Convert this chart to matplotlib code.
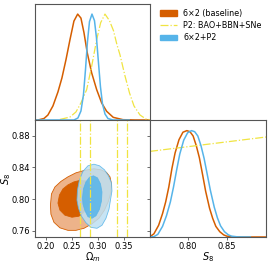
import numpy as np
import matplotlib
matplotlib.use('Agg')
import matplotlib.pyplot as plt
from matplotlib.patches import Patch
from matplotlib.lines import Line2D

c_base = '#D55E00'
c_base_lt = '#EDB38A'
c_p2 = '#F0E442'
c_comb = '#56B4E9'
c_comb_lt = '#BDE0F3'

labels = ['6\u00d72 (baseline)', 'P2: BAO+BBN+SNe', '6\u00d72+P2']

# 1D Omega_m marginals
om_base = [0.179, 0.1846, 0.1962, 0.2038, 0.2135, 0.2231, 0.2308, 0.2385, 0.2462, 0.2538, 0.261,
           0.2673, 0.2731, 0.2794, 0.2879, 0.2975, 0.3071, 0.3167, 0.3294, 0.348, 0.371, 0.40]
p_om_base = [0.0, 0.0, 0.014, 0.047, 0.133, 0.265, 0.398, 0.569, 0.758, 0.934, 1.0,
             0.962, 0.825, 0.635, 0.445, 0.287, 0.161, 0.082, 0.025, 0.003, 0.0, 0.0]
om_comb = [0.179, 0.2538, 0.2615, 0.2673, 0.2721, 0.2760, 0.2798, 0.2837, 0.2885, 0.2933, 0.2971,
           0.3010, 0.3048, 0.3087, 0.3135, 0.3192, 0.3288, 0.36]
p_om_comb = [0.0, 0.0, 0.019, 0.085, 0.237, 0.474, 0.739, 0.929, 1.0, 0.938, 0.777,
             0.540, 0.313, 0.152, 0.057, 0.014, 0.0, 0.0]
om_p2 = [0.2269, 0.2462, 0.2577, 0.2673, 0.2783, 0.2879, 0.2975, 0.3052, 0.3135, 0.3221, 0.3298,
         0.3365, 0.3423, 0.3519, 0.3606, 0.3692, 0.3808, 0.3923, 0.40]
p_om_p2 = [0.005, 0.028, 0.076, 0.161, 0.287, 0.507, 0.758, 0.919, 1.0, 0.938, 0.844,
           0.711, 0.616, 0.417, 0.256, 0.133, 0.047, 0.009, 0.002]

# 1D S8 marginals
s8_base = [0.752, 0.757, 0.763, 0.768, 0.772, 0.776, 0.780, 0.784, 0.789, 0.794, 0.799, 0.803,
           0.807, 0.811, 0.815, 0.819, 0.823, 0.828, 0.832, 0.836, 0.841, 0.846, 0.850, 0.858,
           0.870, 0.900]
p_s8_base = [0.003, 0.03, 0.11, 0.22, 0.33, 0.47, 0.645, 0.79, 0.915, 0.985, 1.0, 0.99,
             0.95, 0.86, 0.745, 0.59, 0.43, 0.27, 0.175, 0.10, 0.05, 0.02, 0.008, 0.001,
             0.0, 0.0]
s8_comb = [0.752, 0.757, 0.762, 0.768, 0.773, 0.778, 0.782, 0.786, 0.790, 0.795, 0.800, 0.805,
           0.809, 0.813, 0.817, 0.821, 0.825, 0.829, 0.834, 0.838, 0.842, 0.847, 0.852, 0.856,
           0.864, 0.880]
p_s8_comb = [0.0, 0.003, 0.025, 0.10, 0.20, 0.33, 0.47, 0.63, 0.78, 0.91, 0.98, 1.0,
             0.99, 0.95, 0.86, 0.74, 0.59, 0.44, 0.28, 0.18, 0.105, 0.05, 0.02, 0.008,
             0.001, 0.0]
s8_p2 = [0.752, 0.900]
p_s8_p2 = [0.805, 0.94]

# 2D contours (Omega_m, S8)
base_95_om = [0.2087, 0.2106, 0.2173, 0.2288, 0.2423, 0.2577, 0.2750, 0.2923, 0.3058, 0.3163, 0.3231,
              0.3260, 0.3250, 0.3202, 0.3125, 0.3019, 0.2885, 0.2731, 0.2577, 0.2423, 0.2269, 0.2154, 0.2096]
base_95_s8 = [0.7923, 0.8064, 0.8153, 0.8223, 0.8281, 0.8332, 0.8364, 0.8383, 0.8370, 0.8338, 0.8281,
              0.8192, 0.8089, 0.7974, 0.7860, 0.7757, 0.7687, 0.7630, 0.7604, 0.7604, 0.7636, 0.7706, 0.7808]
base_68_om = [0.2231, 0.2260, 0.2327, 0.2423, 0.2538, 0.2654, 0.2769, 0.2846, 0.2885, 0.2865, 0.2808,
              0.2731, 0.2635, 0.2500, 0.2365, 0.2269]
base_68_s8 = [0.7949, 0.8051, 0.8128, 0.8179, 0.8217, 0.8236, 0.8230, 0.8192, 0.8115, 0.8013, 0.7911,
              0.7834, 0.7783, 0.7770, 0.7796, 0.7860]
comb_95_om = [0.2596, 0.2606, 0.2644, 0.2712, 0.2808, 0.2923, 0.3029, 0.3125, 0.3202, 0.3260, 0.3269,
              0.3240, 0.3212, 0.3154, 0.3077, 0.2981, 0.2865, 0.2769, 0.2683, 0.2625]
comb_95_s8 = [0.7987, 0.8115, 0.8243, 0.8351, 0.8421, 0.8441, 0.8421, 0.8370, 0.8294, 0.8204, 0.8102,
              0.7987, 0.7872, 0.7757, 0.7668, 0.7630, 0.7642, 0.7700, 0.7783, 0.7885]
comb_68_om = [0.2702, 0.2721, 0.2769, 0.2837, 0.2913, 0.2990, 0.3048, 0.3077, 0.3067, 0.3029, 0.2962,
              0.2885, 0.2808, 0.2750, 0.2712]
comb_68_s8 = [0.8013, 0.8128, 0.8217, 0.8275, 0.8294, 0.8268, 0.8192, 0.8089, 0.7974, 0.7872, 0.7789,
              0.7757, 0.7777, 0.7853, 0.7936]
p2_om_lines = [0.2654, 0.2856, 0.3365, 0.3563]

om_lim = (0.179, 0.400)
s8_lim = (0.752, 0.900)
om_ticks = [0.20, 0.25, 0.30, 0.35]
s8_ticks = [0.76, 0.80, 0.84, 0.88]
s8_xticks = [0.80, 0.85]

W, H = 270, 265
fig = plt.figure(figsize=(2.7, 2.65), dpi=100)
ax1 = fig.add_axes([35 / W, (H - 120) / H, 115 / W, 116.5 / H])
ax2 = fig.add_axes([35 / W, (H - 237) / H, 115 / W, 117 / H])
ax3 = fig.add_axes([150 / W, (H - 237) / H, 116 / W, 117 / H])

spc = '#555555'
for ax in (ax1, ax2, ax3):
    for s in ax.spines.values():
        s.set_color(spc)
        s.set_linewidth(0.8)
    ax.tick_params(direction='out', length=2.5, width=0.6, color=spc, labelsize=6, pad=1.2)

# top-left: Omega_m
ax1.plot(om_base, p_om_base, color=c_base, lw=1.1)
ax1.plot(om_p2, p_om_p2, color=c_p2, lw=0.9, ls='-.')
ax1.plot(om_comb, p_om_comb, color=c_comb, lw=1.1)
ax1.set_xlim(om_lim)
ax1.set_ylim(0, 1.1)
ax1.set_xticks(om_ticks)
ax1.set_xticklabels([])
ax1.set_yticks([])

# bottom-left: 2D
ax2.fill(base_95_om, base_95_s8, facecolor=c_base_lt, edgecolor=c_base, lw=0.6)
ax2.fill(base_68_om, base_68_s8, facecolor=c_base, edgecolor=c_base, lw=0.6)
ax2.fill(comb_95_om, comb_95_s8, facecolor=c_comb_lt, edgecolor=c_comb, lw=0.6, alpha=0.85)
ax2.fill(comb_68_om, comb_68_s8, facecolor=c_comb, edgecolor=c_comb, lw=0.6, alpha=0.85)
for v in p2_om_lines:
    ax2.axvline(v, color=c_p2, lw=0.9, ls='-.')
ax2.set_xlim(om_lim)
ax2.set_ylim(s8_lim)
ax2.set_xticks(om_ticks)
ax2.set_xticklabels(['%.2f' % t for t in om_ticks])
ax2.set_yticks(s8_ticks)
ax2.set_yticklabels(['%.2f' % t for t in s8_ticks])
ax2.set_xlabel(r'$\Omega_m$', fontsize=7)
ax2.set_ylabel(r'$S_8$', fontsize=7)
ax2.xaxis.set_label_coords(0.5, -0.11)
ax2.yaxis.set_label_coords(-0.19, 0.5)
sec = ax2.secondary_yaxis('right')
sec.set_yticks(s8_ticks)
sec.set_yticklabels([])
sec.tick_params(direction='in', length=2.5, width=0.6, color=spc)
sec.spines['right'].set_visible(False)

# bottom-right: S8
ax3.plot(s8_base, p_s8_base, color=c_base, lw=1.1)
ax3.plot(s8_p2, p_s8_p2, color=c_p2, lw=0.9, ls='-.')
ax3.plot(s8_comb, p_s8_comb, color=c_comb, lw=1.1)
ax3.set_xlim(s8_lim)
ax3.set_ylim(0, 1.1)
ax3.set_xticks(s8_xticks)
ax3.set_xticklabels(['%.2f' % t for t in s8_xticks])
ax3.set_yticks([])
ax3.set_xlabel(r'$S_8$', fontsize=7)
ax3.xaxis.set_label_coords(0.5, -0.11)

handles = [Patch(facecolor=c_base, edgecolor=c_base),
           Line2D([], [], color=c_p2, lw=0.9, ls='-.'),
           Patch(facecolor=c_comb, edgecolor=c_comb)]
fig.legend(handles, labels, loc='upper left', bbox_to_anchor=(156 / W, 1 - 5 / H),
           frameon=False, fontsize=5.8, borderpad=0, handlelength=2.1,
           handletextpad=0.8, labelspacing=0.38)

fig.savefig('out.png', dpi=100)
